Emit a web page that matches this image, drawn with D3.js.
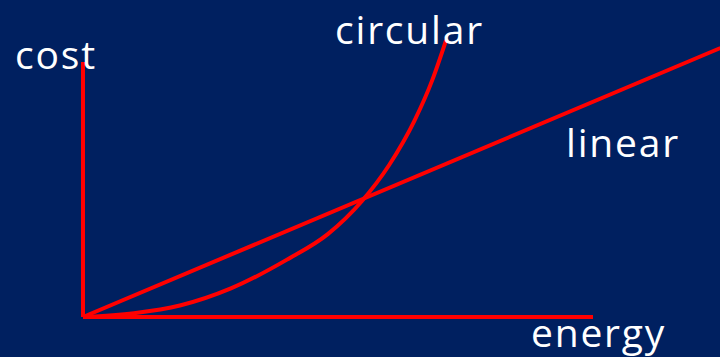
<!DOCTYPE html>
<html>
<head>
<meta charset="utf-8">
<script src="https://cdn.jsdelivr.net/npm/d3@7"></script>
<style>
  html, body { margin: 0; padding: 0; background: #002060; }
  svg { display: block; }
</style>
</head>
<body>
<svg></svg>
<script>
let width = 720, height = 357;

// data (arbitrary units)
const axisX = [0, 10];
const axisY = [0, 10];
const linearX = [0, 12.5];
const linearY = [0, 10.55];
const circularX = [0, 1.0, 1.9, 2.9, 4.0, 4.8, 5.47, 6.0, 6.5, 6.85, 7.12];
const circularY = [0, 0.15, 0.45, 1.12, 2.25, 3.25, 4.55, 5.95, 7.7, 9.3, 10.86];

let svg = d3.select("svg")
    .attr("width", width)
    .attr("height", height);

svg.append("rect")
    .attr("width", width)
    .attr("height", height)
    .attr("fill", "#002060");

let x = d3.scaleLinear().domain([0, 10]).range([83, 593]);
let y = d3.scaleLinear().domain([0, 10]).range([317, 62]);

let line = d3.line()
    .x(d => x(d[0]))
    .y(d => y(d[1]));

// axes
svg.append("path")
    .attr("d", line([[axisX[0], axisY[0]], [axisX[0], axisY[1]]]))
    .attr("stroke", "#ff0000")
    .attr("stroke-width", 4)
    .attr("fill", "none");

svg.append("path")
    .attr("d", line([[axisX[0], axisY[0]], [axisX[1], axisY[0]]]))
    .attr("stroke", "#ff0000")
    .attr("stroke-width", 4)
    .attr("fill", "none");

// linear
svg.append("path")
    .attr("d", line(linearX.map((v, i) => [v, linearY[i]])))
    .attr("stroke", "#ff0000")
    .attr("stroke-width", 4)
    .attr("fill", "none");

// circular
let curveLine = d3.line()
    .x(d => x(d[0]))
    .y(d => y(d[1]))
    .curve(d3.curveMonotoneX);

svg.append("path")
    .attr("d", curveLine(circularX.map((v, i) => [v, circularY[i]])))
    .attr("stroke", "#ff0000")
    .attr("stroke-width", 4)
    .attr("fill", "none");

// labels
const labels = [
    {text: "cost", x: 15, y: 69},
    {text: "circular", x: 335, y: 44},
    {text: "linear", x: 566, y: 157},
    {text: "energy", x: 531, y: 347}
];

svg.selectAll(".label")
    .data(labels)
    .enter()
    .append("text")
    .attr("class", "label")
    .attr("x", d => d.x)
    .attr("y", d => d.y)
    .attr("fill", "white")
    .style("font-family", "'Open Sans', sans-serif")
    .style("font-size", "39px")
    .style("letter-spacing", "1.8px")
    .text(d => d.text);
</script>
</body>
</html>
